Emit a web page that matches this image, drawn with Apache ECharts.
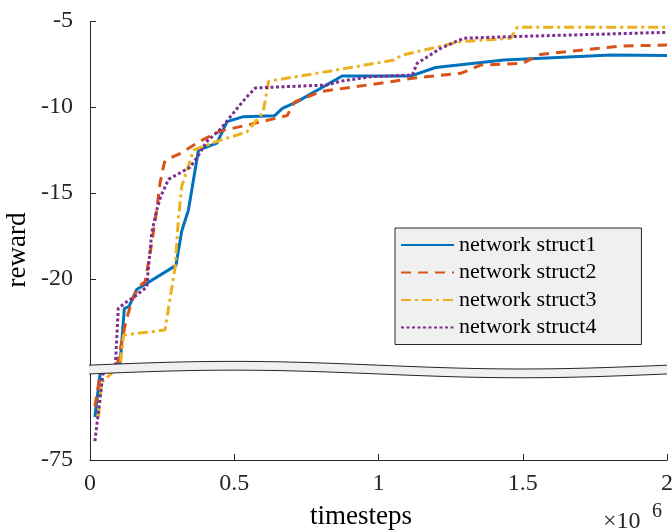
<!doctype html>
<html lang="en">
<head>
    <meta charset="UTF-8">
    <title>reward vs timesteps</title>
    <style>
        *{margin: 0; padding: 0}
        body{background: #fff}
    </style>
</head>
<body>
<div id="block" style="width:672px;height:530px"></div>

<script src="https://cdn.jsdelivr.net/npm/echarts@6/dist/echarts.min.js"></script>
<script>
    // data (x in units of 1e6 timesteps)
    const seriesNames = ['network struct1', 'network struct2', 'network struct3', 'network struct4'];
    const xTicks = [0, 0.5, 1, 1.5, 2];
    const yTicks = [-75, -20, -15, -10, -5];
    const breakStart = -70, breakEnd = -25;

    const struct1 = [[0.017,-72.5],[0.035,-70],[0.104,-25],[0.119,-21.7],[0.135,-21.6],[0.162,-20.6],
        [0.298,-19.2],[0.318,-17.2],[0.341,-16.0],[0.376,-12.5],[0.44,-12.1],[0.475,-10.85],[0.532,-10.56],
        [0.64,-10.5],[0.667,-10.08],[0.717,-9.7],[0.874,-8.2],[1.111,-8.2],[1.198,-7.7],[1.435,-7.27],
        [1.806,-6.98],[2.0,-7.0]];
    const struct2 = [[0.017,-71.9],[0.035,-70],[0.094,-25],[0.125,-22.4],[0.145,-21.3],[0.168,-20.45],
        [0.191,-20.15],[0.214,-17.9],[0.231,-16.0],[0.243,-14.4],[0.258,-13.2],[0.272,-13.0],[0.312,-12.7],
        [0.38,-12.0],[0.451,-11.4],[0.544,-11.05],[0.683,-10.5],[0.71,-9.7],[0.8,-9.1],[1.042,-8.53],
        [1.117,-8.33],[1.285,-8.04],[1.354,-7.56],[1.5,-7.46],[1.56,-6.95],[1.84,-6.45],[2.0,-6.4]];
    const struct3 = [[0.029,-72.5],[0.04,-70.5],[0.105,-25],[0.116,-23.25],[0.26,-22.96],[0.295,-19.3],
        [0.307,-16.4],[0.318,-14.6],[0.359,-12.5],[0.44,-12.0],[0.544,-11.44],[0.6,-10.3],[0.619,-8.5],
        [0.8,-8.0],[1.053,-7.27],[1.082,-6.98],[1.285,-6.2],[1.458,-6.0],[1.481,-5.37],[2.0,-5.37]];
    const struct4 = [[0.017,-73.9],[0.045,-70],[0.088,-25],[0.098,-21.7],[0.12,-21.4],[0.156,-21.0],
        [0.197,-20.45],[0.2,-19.8],[0.214,-17.3],[0.231,-16.0],[0.245,-15.2],[0.272,-14.2],[0.347,-13.5],
        [0.376,-12.8],[0.405,-12.0],[0.451,-11.3],[0.509,-10.1],[0.544,-9.4],[0.573,-8.9],[0.613,-8.86],
        [0.822,-8.72],[0.868,-8.5],[0.972,-8.24],[1.117,-8.14],[1.134,-7.46],[1.215,-6.59],[1.296,-6.0],
        [1.458,-5.91],[2.0,-5.66]];
</script>
<script>
    const FONT = 'Liberation Serif';
    const AX = '#262626';
    const colors = ['#0072BD', '#D95319', '#EDB120', '#7E2F8E'];
    const dashes = ['solid', [10, 7], [10, 4, 3, 4], [3, 2.5]];
    const allData = [struct1, struct2, struct3, struct4];

    const chart = echarts.init(document.getElementById('block'));
    const option = {
        animation: false,
        grid: {left: 90, right: 5, top: 21, bottom: 70, outerBoundsMode: 'none', containLabel: false},
        legend: {
            orient: 'vertical',
            left: 395, top: 228,
            padding: [6, 45, 6, 5],
            itemWidth: 53, itemHeight: 14, itemGap: 5.5,
            backgroundColor: '#f0f0f0',
            borderColor: AX, borderWidth: 1, borderRadius: 0,
            itemStyle: {opacity: 0},
            textStyle: {fontFamily: FONT, fontSize: 22, color: '#000'},
            data: seriesNames
        },
        xAxis: {
            type: 'value', min: 0, max: 2, interval: 0.5,
            axisLine: {lineStyle: {color: AX, width: 1}},
            axisTick: {inside: true, length: 6, lineStyle: {color: AX}},
            axisLabel: {fontFamily: FONT, fontSize: 24, color: AX, margin: 12,
                formatter: v => String(v)},
            splitLine: {show: false}
        },
        yAxis: {
            type: 'value', min: -75, max: -5,
            breaks: [{start: breakStart, end: breakEnd, gap: '2%'}],
            breakArea: {show: false, expandOnClick: false},
            axisLine: {show: true, lineStyle: {color: AX, width: 1}},
            axisTick: {show: true, inside: true, length: 6, lineStyle: {color: AX}, customValues: yTicks},
            axisLabel: {fontFamily: FONT, fontSize: 24, color: AX, margin: 17, customValues: yTicks},
            splitLine: {show: false}
        },
        series: allData.map((d, i) => ({
            name: seriesNames[i],
            type: 'line',
            data: d,
            symbol: 'none',
            showSymbol: false,
            color: colors[i],
            lineStyle: {color: colors[i], width: 3, type: dashes[i]},
            z: 2
        }))
    };
    chart.setOption(option);

    // wavy break band, placed through the axis scales
    const yTop = chart.convertToPixel({yAxisIndex: 0}, breakEnd);
    const yBot = chart.convertToPixel({yAxisIndex: 0}, breakStart);
    const x0 = chart.convertToPixel({xAxisIndex: 0}, 0) - 1;
    const x1 = chart.convertToPixel({xAxisIndex: 0}, 2);
    const wave = x => -3.8 * Math.sin(2 * Math.PI * (x - x0) / (x1 - x0));
    let topPts = [], botPts = [];
    for (let x = x0; x <= x1 + 0.01; x += 4) {
        topPts.push([x, yTop + wave(x)]);
        botPts.push([x, yBot + wave(x)]);
    }
    topPts.push([x1, yTop + wave(x1)]);
    botPts.push([x1, yBot + wave(x1)]);
    chart.setOption({
        graphic: [
            {type: 'polygon', z: 100, shape: {points: topPts.concat(botPts.slice().reverse())},
                style: {fill: '#f0f0f0', stroke: null}},
            {type: 'polyline', z: 101, shape: {points: topPts}, style: {stroke: AX, lineWidth: 1, fill: null}},
            {type: 'polyline', z: 101, shape: {points: botPts}, style: {stroke: AX, lineWidth: 1, fill: null}},
            {type: 'text', z: 101, rotation: Math.PI / 2, x: 18, y: 250,
                style: {text: 'reward', font: '27px "Liberation Serif"', fill: '#000',
                    align: 'center', verticalAlign: 'middle'}},
            {type: 'text', z: 101, x: 361, y: 517,
                style: {text: 'timesteps', font: '27px "Liberation Serif"', fill: '#000',
                    align: 'center', verticalAlign: 'middle'}},
            {type: 'text', z: 101, x: 603, y: 522,
                style: {text: '\u00d710', font: '24px "Liberation Serif"', fill: AX,
                    align: 'left', verticalAlign: 'middle'}},
            {type: 'text', z: 101, x: 652, y: 512,
                style: {text: '6', font: '20px "Liberation Serif"', fill: AX,
                    align: 'left', verticalAlign: 'middle'}}
        ]
    });
</script>
</body>
</html>
